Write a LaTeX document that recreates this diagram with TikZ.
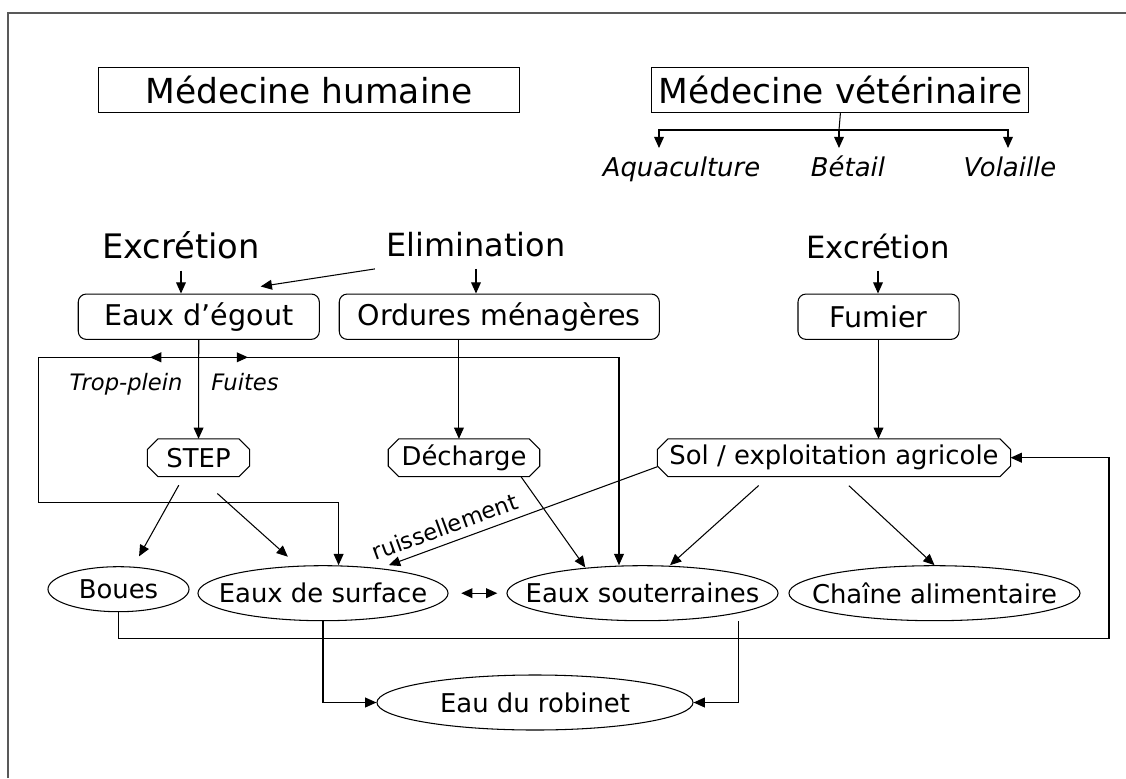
\documentclass[tikz,border=0pt]{standalone}
\usepackage{fontspec}
\setmainfont{DejaVu Sans}
\usetikzlibrary{shapes.geometric,arrows.meta}

\begin{document}
\begin{tikzpicture}[x=0.025cm,y=-0.025cm,line width=0.75pt,
	>={Triangle[length=8pt,width=7pt]},
	arr/.style={->},
	frame/.style={line width=1.2pt,black!65},
	title/.style={draw,rectangle,inner sep=0pt,minimum height=1.135cm,font=\fontsize{24.5}{29}\selectfont},
	word/.style={anchor=base,inner sep=8pt},
	kind/.style={anchor=base,inner sep=0pt,font=\fontsize{18.4}{22}\selectfont\itshape},
	note/.style={anchor=base,inner sep=0pt,font=\fontsize{16.1}{19}\selectfont\itshape},
	flow/.style={draw,rectangle,rounded corners=5.7pt,inner sep=0pt,minimum height=1.133cm,font=\fontsize{20.3}{24}\selectfont},
	site/.style={rectangle,inner sep=0pt,minimum height=0.918cm,font=\fontsize{18.4}{22}\selectfont},
	water/.style={draw,ellipse,inner xsep=-60pt,inner ysep=0pt,minimum height=1.375cm,font=\fontsize{18.4}{22}\selectfont}]
	\useasboundingbox (0,0) rectangle (1126,778);
	\draw[frame] (8,778) -- (8,13) -- (1126,13);
	% sources
	\node[title,minimum width=10.5cm] (humaine) at (309,90) {Médecine humaine};
	\node[title,minimum width=9.425cm] (veto) at (840.4,90) {Médecine vétérinaire};
	\node[kind] (aqua) at (681.5,176.7) {Aquaculture};
	\node[kind] (betail) at (848,176.7) {Bétail};
	\node[kind] (volaille) at (1010,176.7) {Volaille};
	\node[word,font=\fontsize{24}{28}\selectfont] (excr1) at (181,258.3) {Excrétion};
	\node[word,font=\fontsize{22.7}{27}\selectfont] (elim) at (476,256.7) {Elimination};
	\node[word,font=\fontsize{21.8}{26}\selectfont] (excr2) at (878,258.3) {Excrétion};
	% voies
	\node[flow,minimum width=6.025cm] (egout) at (198.8,316.7) {Eaux d’égout};
	\node[flow,minimum width=8cm] (ordures) at (499.3,316.7) {Ordures ménagères};
	\node[flow,minimum width=4.025cm] (fumier) at (878.5,316.7) {Fumier};
	\node[note] (trop) at (126,390) {Trop-plein};
	\node[note] (fuites) at (245,390) {Fuites};
	\node[site,minimum width=2.525cm] (station) at (198.5,457.7) {STEP};
	\node[site,minimum width=3.76cm] (decharge) at (464,457.7) {Décharge};
	\node[site,minimum width=8.8cm] (sol) at (834,457.7) {Sol / exploitation agricole};
	\foreach \n in {station,decharge,sol}
		\draw ([xshift=7.5pt]\n.north west) -- ([xshift=-7.5pt]\n.north east) -- ([yshift=-7.5pt]\n.north east) -- ([yshift=7.5pt]\n.south east) -- ([xshift=-7.5pt]\n.south east) -- ([xshift=7.5pt]\n.south west) -- ([yshift=7.5pt]\n.south west) -- ([yshift=-7.5pt]\n.north west) -- cycle;
	% milieux
	\node[water,minimum width=3.525cm,minimum height=1.125cm] (boues) at (118.5,589.2) {Boues};
	\node[water,minimum width=6.25cm] (surface) at (323,593.2) {Eaux de surface};
	\node[water,minimum width=6.775cm] (souterr) at (642.5,593.2) {Eaux souterraines};
	\node[water,minimum width=7.275cm] (chaine) at (934.5,593.2) {Chaîne alimentaire};
	\node[water,minimum width=7.9cm] (robinet) at (535,702.5) {Eau du robinet};
	% vétérinaire
	\coordinate (vj) at (839,130);
	\coordinate (aquain) at (659,148);
	\coordinate (betailin) at (839,148);
	\coordinate (volin) at (1008,148);
	\draw (veto.south) -- (vj);
	\draw[arr] (vj) -| (aquain);
	\draw[arr] (vj) -- (betailin);
	\draw[arr] (vj) -| (volin);
	% excrétion et élimination
	\draw[arr] (excr1) -- (excr1 |- egout.north);
	\draw[arr] (elim.south west) -- ([xshift=44pt,yshift=5pt]egout.north);
	\draw[arr] (elim) -- (elim |- ordures.north);
	\draw[arr] (excr2) -- (excr2 |- fumier.north);
	% égouts
	\coordinate (jn) at (198.8,357.3);
	\coordinate (ovA) at (38.6,502.7);
	\coordinate (ovB) at (338.6,502.7);
	\coordinate (lkA) at (619,357.3);
	\coordinate (tpin) at (150,357.3);
	\coordinate (ftin) at (248,357.3);
	\draw[arr] (egout) -- (station);
	\draw[arr] (jn) -| (ovA) -- (ovB) -- (ovB |- surface.north);
	\draw[arr] (jn) -- (lkA) -- (lkA |- souterr.north);
	\draw[arr] (jn) -- (tpin);
	\draw[arr] (jn) -- (ftin);
	% décharge et fumier
	\draw[arr] ([xshift=-28.7pt]ordures.south) -- ([xshift=-28.7pt]ordures.south |- decharge.north);
	\draw[arr] (fumier) -- (fumier |- sol.north);
	\draw[arr,shorten <=7pt,shorten >=8pt] ([xshift=-10.6pt]station.south) -- ([xshift=10.7pt]boues.north);
	\draw[arr,shorten <=18pt,shorten >=9pt] (station.south) -- ([xshift=-18.3pt]surface.north);
	\draw[arr] ([xshift=40.5pt]decharge.south) -- ([xshift=-40.7pt,yshift=-1.6pt]souterr.north);
	% sol
	\draw[<-] ([xshift=46.9pt]surface.north) -- node[sloped,above,pos=0.23,inner sep=5.5pt,font=\fontsize{16.1}{19}\selectfont]{ruissellement} ([yshift=-6.4pt]sol.west);
	\draw[arr,shorten <=9.5pt] ([xshift=-46.5pt]sol.south) -- ([xshift=19.6pt]souterr.north);
	\draw[arr,shorten <=9.5pt] ([xshift=3.6pt]sol.south) -- (chaine.north);
	\draw[<->,shorten <=9pt,shorten >=6.5pt] (surface) -- (souterr);
	% retour et robinet
	\coordinate (rtn) at (1109,638.3);
	\draw[arr] (boues.south) |- (rtn) |- (sol.east);
	\draw[arr] (surface) |- (robinet);
	\draw[arr] ([xshift=68pt]souterr.south) |- (robinet);
\end{tikzpicture}
\end{document}
